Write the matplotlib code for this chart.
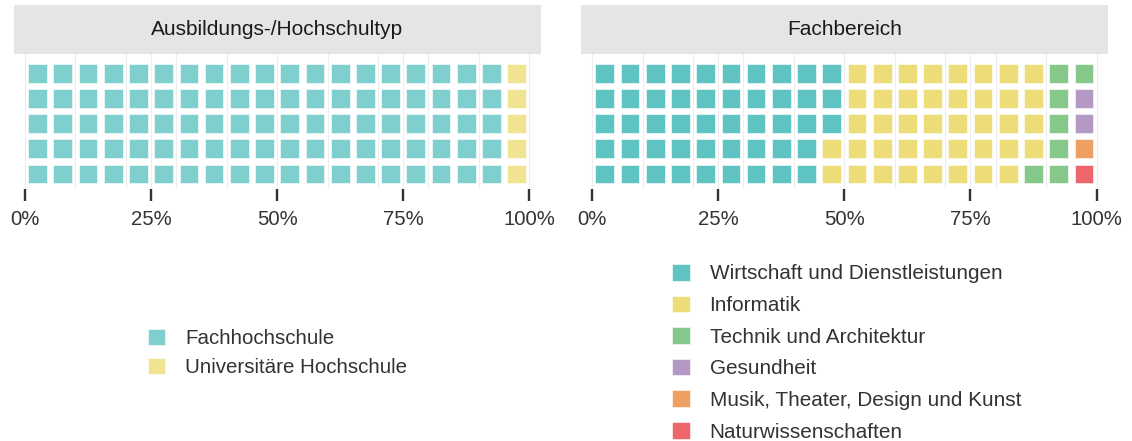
import numpy as np
import matplotlib
matplotlib.use("Agg")
import matplotlib.pyplot as plt
from matplotlib import font_manager

# data
typ_title = "Ausbildungs-/Hochschultyp"
typ_labels = ["Fachhochschule", "Universitäre Hochschule"]
typ_counts = [95, 5]
typ_colors = ["#7FCFCE", "#F0E493"]

fach_title = "Fachbereich"
fach_labels = ["Wirtschaft und Dienstleistungen", "Informatik",
               "Technik und Architektur", "Gesundheit",
               "Musik, Theater, Design und Kunst", "Naturwissenschaften"]
fach_counts = [48, 41, 7, 2, 1, 1]
fach_colors = ["#5FC3C2", "#ECDD78", "#86C78A", "#B399C4", "#F09F63", "#EC666B"]

tick_pos = [0, 25, 50, 75, 100]
tick_labels = ["0%", "25%", "50%", "75%", "100%"]
minor_pos = [10, 20, 30, 40, 60, 70, 80, 90]

# narrow font if there is one, the reference text is condensed
names = {f.name for f in font_manager.fontManager.ttflist}
if "Liberation Sans Narrow" in names:
    FONT, SC = "Liberation Sans Narrow", 1.0
else:
    FONT, SC = "Liberation Sans", 0.89
plt.rcParams["font.family"] = FONT

W, H = 1132, 441
N_ROWS = 5


def px_box(x0, y0, x1, y1):
    # pixel box (top-left origin) -> figure fraction rect
    return [x0 / W, 1 - y1 / H, (x1 - x0) / W, (y1 - y0) / H]


def waffle(ax, counts, colors, labels):
    cat = np.repeat(np.arange(len(counts)), counts)
    idx = np.arange(cat.size)
    step = 100 / (cat.size / N_ROWS)
    x = (idx // N_ROWS) * step + step / 2
    y = N_ROWS - idx % N_ROWS
    for k, (c, lab) in enumerate(zip(colors, labels)):
        m = cat == k
        ax.bar(x[m], 0.744, width=step * 0.742, bottom=y[m] - 0.372,
               color=c, edgecolor="white", linewidth=0.4, label=lab)
    ax.set_xlim(-2.18, 102.26)
    ax.set_ylim(0.40, 5.757)
    ax.set_xticks(tick_pos)
    ax.set_xticklabels(tick_labels, fontsize=16.5 * SC, color="#333333")
    ax.set_xticks(minor_pos, minor=True)
    ax.set_yticks([])
    ax.tick_params(axis="x", which="major", length=8.6, width=1.7,
                   color="#333333", pad=6.6)
    ax.tick_params(axis="x", which="minor", length=0)
    ax.grid(axis="x", which="both", color="#EDEDED", linewidth=0.8)
    ax.set_axisbelow(True)
    for s in ax.spines.values():
        s.set_visible(False)


def strip(x0, x1, title):
    sax = fig.add_axes(px_box(x0, 5, x1, 54.3))
    sax.set_facecolor("#E5E5E5")
    sax.set_xticks([])
    sax.set_yticks([])
    for s in sax.spines.values():
        s.set_visible(False)
    sax.text(0.5, 0.5, title, ha="center", va="center",
             fontsize=16.9 * SC, color="#1A1A1A", transform=sax.transAxes)


fig = plt.figure(figsize=(W / 100, H / 100), dpi=100)

shift = 567.2
ax1 = fig.add_axes(px_box(14, 54.3, 540.7, 189))
ax2 = fig.add_axes(px_box(14 + shift, 54.3, 540.7 + shift, 189))
waffle(ax1, typ_counts, typ_colors, typ_labels)
waffle(ax2, fach_counts, fach_colors, fach_labels)
strip(14, 540.7, typ_title)
strip(14 + shift, 540.7 + shift, fach_title)

leg_kw = dict(frameon=False, borderpad=0, handlelength=0.85, handleheight=0.85,
              handletextpad=0.96, borderaxespad=0, labelcolor="#333333")
ax1.legend(loc="upper left", bbox_to_anchor=(148 / W, 1 - 329 / H),
           bbox_transform=fig.transFigure, fontsize=16.6 * SC,
           labelspacing=0.475, **leg_kw)
ax2.legend(loc="upper left", bbox_to_anchor=(672 / W, 1 - 264 / H),
           bbox_transform=fig.transFigure, fontsize=16.8 * SC,
           labelspacing=0.585, **leg_kw)

fig.savefig("out.png", dpi=100)
